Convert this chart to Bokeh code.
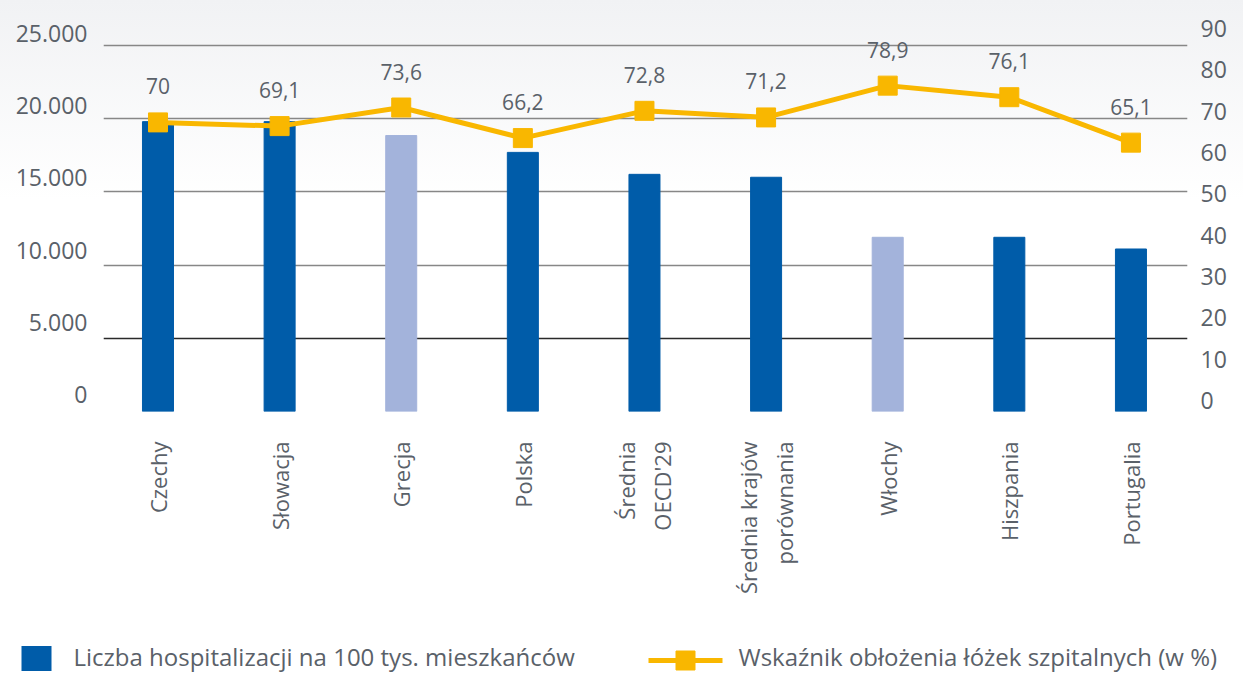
import math
from bokeh.plotting import figure
from bokeh.layouts import column
from bokeh.models import Range1d, LinearAxis, FixedTicker, Grid, ColumnDataSource
from bokeh.core.properties import value
from bokeh.embed import file_html
from bokeh.resources import INLINE

# ---- data ----
categories = ["Czechy", "Słowacja", "Grecja", "Polska", "Średnia\nOECD'29",
              "Średnia krajów\nporównania", "Włochy", "Hiszpania", "Portugalia"]
hospitalizations = [19800, 19800, 18850, 17700, 16200, 16000, 11900, 11900, 11100]
occupancy = [70.0, 69.1, 73.6, 66.2, 72.8, 71.2, 78.9, 76.1, 65.1]
light_bars = ["Grecja", "Włochy"]
left_ticks = [0, 5000, 10000, 15000, 20000, 25000]
left_tick_labels = ["0", "5.000", "10.000", "15.000", "20.000", "25.000"]
right_ticks = [0, 10, 20, 30, 40, 50, 60, 70, 80, 90]
series_names = ["Liczba hospitalizacji na 100 tys. mieszkańców",
                "Wskaźnik obłożenia łóżek szpitalnych (w %)"]

DARK = "#005CA9"
LIGHT = "#A3B3DB"
YELLOW = "#F9B700"
TEXT = "#5a6169"
FONT = "Open Sans"

xs = list(range(len(categories)))
colors = [LIGHT if c in light_bars else DARK for c in categories]
src = ColumnDataSource(dict(x=xs, top=hospitalizations, color=colors, occ=occupancy,
                            lab=[("%g" % v).replace(".", ",") for v in occupancy]))

p = figure(frame_width=1084, frame_height=391,
           x_range=Range1d(-0.448, 8.465), y_range=Range1d(0, 26708),
           y_axis_location=None, output_backend="svg", toolbar_location=None,
           min_border_left=103, min_border_right=56, min_border_top=20, min_border_bottom=218)
p.extra_y_ranges = {"line": Range1d(0, 94.67), "llab": Range1d(-1177, 25900),
                    "rlab": Range1d(-2.66, 91.94)}
p.outline_line_color = None
p.background_fill_color = None
p.border_fill_color = None
p.styles = {"background-image": "linear-gradient(#f1f2f4 0px, #ffffff 200px)"}
p.xgrid.visible = False
p.frame_align = False

# grids
g1 = Grid(dimension=1, ticker=FixedTicker(ticks=left_ticks[2:]), grid_line_color="#878787",
          grid_line_width=1.5)
g2 = Grid(dimension=1, ticker=FixedTicker(ticks=left_ticks[:2]), grid_line_color="#2a2a2a",
          grid_line_width=1.5)
p.add_layout(g1)
p.add_layout(g2)

# axes
la = LinearAxis(y_range_name="llab", ticker=FixedTicker(ticks=left_ticks),
                major_label_overrides={t: l for t, l in zip(left_ticks, left_tick_labels)})
ra = LinearAxis(y_range_name="rlab", ticker=FixedTicker(ticks=right_ticks))
for ax, so in ((la, 16), (ra, 13)):
    ax.axis_line_color = None
    ax.major_tick_line_color = None
    ax.minor_tick_line_color = None
    ax.major_tick_out = 0
    ax.major_tick_in = 0
    ax.major_label_standoff = so
    ax.major_label_text_font = FONT
    ax.major_label_text_font_size = "23px"
    ax.major_label_text_color = TEXT
p.add_layout(la, "left")
p.add_layout(ra, "right")

xa = p.xaxis[0]
xa.ticker = FixedTicker(ticks=xs)
xa.major_label_overrides = {i: c for i, c in zip(xs, categories)}
xa.major_label_orientation = math.pi / 2
xa.axis_line_color = None
xa.major_tick_line_color = None
xa.minor_tick_line_color = None
xa.major_tick_out = 0
xa.major_tick_in = 0
xa.major_label_standoff = 30
xa.major_label_text_font = FONT
xa.major_label_text_font_size = "22px"
xa.major_label_text_color = TEXT

# glyphs
p.vbar(x="x", top="top", width=0.255, color="color", source=src)
p.line(x="x", y="occ", y_range_name="line", line_color=YELLOW, line_width=5, source=src)
p.scatter(x="x", y="occ", y_range_name="line", marker="square", size=19,
          fill_color=YELLOW, line_color=YELLOW, source=src)
p.text(x="x", y="occ", text="lab", y_range_name="line", y_offset=-36,
       text_align="center", text_baseline="middle", text_font=value(FONT),
       text_font_size="21px", text_color=TEXT, source=src)

# legend strip (drawn in its own pixel-space figure)
LH = 44
lf = figure(width=1243, height=LH, x_range=Range1d(0, 1243), y_range=Range1d(0, LH),
            x_axis_location=None, y_axis_location=None, output_backend="svg",
            toolbar_location=None, min_border=0)
lf.frame_align = False
lf.outline_line_color = None
lf.grid.visible = False
lf.border_fill_color = "white"
lf.background_fill_color = "white"
lf.rect(x=[36], y=[15], width=30, height=25, fill_color=DARK, line_color=None)
lf.line(x=[648, 722], y=[13, 13], line_color=YELLOW, line_width=5)
lf.scatter(x=[685], y=[13], marker="square", size=19, fill_color=YELLOW, line_color=YELLOW)
lf.text(x=[73, 738], y=[17, 17], text=series_names, text_align="left",
        text_baseline="middle", text_font=value(FONT), text_font_size="24px",
        text_color=TEXT)

layout = column(p, lf, spacing=0)
open("out.html", "w").write(file_html(layout, INLINE))
